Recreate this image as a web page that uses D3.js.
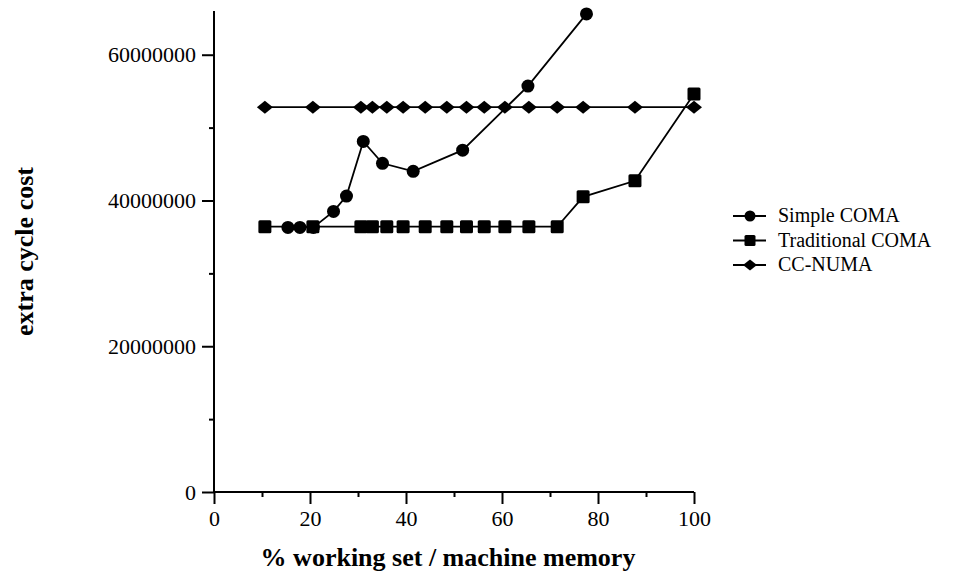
<!DOCTYPE html>
<html>
<head>
<meta charset="utf-8">
<script src="https://cdn.jsdelivr.net/npm/d3@7"></script>
<style>
  html, body { margin: 0; padding: 0; background: #fff; }
  svg { display: block; }
  text { font-family: "Liberation Serif", "Times New Roman", serif; fill: #000; }
</style>
</head>
<body>
<svg id="chart" width="964" height="572"></svg>
<script>
// ---- data ----
const seriesNames = ["Simple COMA", "Traditional COMA", "CC-NUMA"];
const simpleX = [15.4, 17.9, 20.7, 24.9, 27.6, 31.1, 35.1, 41.5, 51.8, 65.4, 77.6];
const simpleY = [36300000, 36300000, 36300000, 38500000, 40600000, 48100000, 45100000, 44000000, 46900000, 55700000, 65600000];
const tradX = [10.6, 20.6, 30.6, 33.0, 36.0, 39.4, 44.0, 48.5, 52.6, 56.3, 60.6, 65.6, 71.5, 76.9, 87.7, 100];
const tradY = [36400000, 36400000, 36400000, 36400000, 36400000, 36400000, 36400000, 36400000, 36400000, 36400000, 36400000, 36400000, 36400000, 40500000, 42700000, 54600000];
const ccX = [10.6, 20.6, 30.6, 33.0, 36.0, 39.4, 44.0, 48.5, 52.6, 56.3, 60.6, 65.6, 71.5, 76.9, 87.7, 100];
const ccY = [52800000, 52800000, 52800000, 52800000, 52800000, 52800000, 52800000, 52800000, 52800000, 52800000, 52800000, 52800000, 52800000, 52800000, 52800000, 52800000];
const xMajorTicks = [0, 20, 40, 60, 80, 100];
const xMinorTicks = [10, 30, 50, 70, 90];
const yMajorTicks = [0, 20000000, 40000000, 60000000];
const yMinorTicks = [10000000, 30000000, 50000000];
const xTitle = "% working set / machine memory";
const yTitle = "extra cycle cost";

// ---- layout ----
const svg = d3.select("#chart");
const x = d3.scaleLinear().domain([0, 100]).range([214, 694]);
const y = d3.scaleLinear().domain([0, 66000000]).range([492, 11]);

// axes
const gx = svg.append("g").attr("transform", `translate(0,${y(0)})`);
gx.call(d3.axisBottom(x).tickValues(xMajorTicks).tickSize(12).tickPadding(6).tickFormat(d3.format("d")));
const gxm = svg.append("g").attr("transform", `translate(0,${y(0)})`);
gxm.call(d3.axisBottom(x).tickValues(xMinorTicks).tickSize(5).tickFormat(""));
gxm.select(".domain").remove();

const gy = svg.append("g").attr("transform", `translate(${x(0)},0)`);
gy.call(d3.axisLeft(y).tickValues(yMajorTicks).tickSize(12).tickPadding(6).tickFormat(d3.format("d")));
const gym = svg.append("g").attr("transform", `translate(${x(0)},0)`);
gym.call(d3.axisLeft(y).tickValues(yMinorTicks).tickSize(5).tickFormat(""));
gym.select(".domain").remove();

svg.selectAll(".domain").attr("stroke", "#000").attr("stroke-width", 2);
svg.selectAll(".tick line").attr("stroke", "#000").attr("stroke-width", 2);
svg.selectAll(".tick text")
  .style("font-family", '"Liberation Serif", "Times New Roman", serif')
  .style("font-size", "22px").attr("fill", "#000");
gx.select(".domain").attr("d", `M${x(0)},0H${x(100)}`);
gy.select(".domain").attr("d", `M0,${y(0)}V${y(66000000)}`);

// titles
svg.append("text")
  .attr("x", (x(0) + x(100)) / 2 - 6)
  .attr("y", 566)
  .attr("text-anchor", "middle")
  .style("font-size", "26px").style("font-weight", "bold")
  .text(xTitle);
svg.append("text")
  .attr("transform", `translate(33,${(y(0) + y(66000000)) / 2}) rotate(-90)`)
  .attr("text-anchor", "middle")
  .style("font-size", "26px").style("font-weight", "bold")
  .text(yTitle);

// ---- series ----
const line = d3.line().x(d => x(d[0])).y(d => y(d[1]));
const series = [
  { name: seriesNames[2], xs: ccX, ys: ccY, shape: "diamond" },
  { name: seriesNames[1], xs: tradX, ys: tradY, shape: "square" },
  { name: seriesNames[0], xs: simpleX, ys: simpleY, shape: "circle" }
];
function drawMarker(g, shape, cx, cy, s) {
  if (shape === "circle") {
    g.append("circle").attr("cx", cx).attr("cy", cy).attr("r", s / 2).attr("fill", "#000");
  } else if (shape === "square") {
    g.append("rect").attr("x", cx - s / 2).attr("y", cy - s / 2).attr("width", s).attr("height", s)
      .attr("rx", 1.5).attr("fill", "#000");
  } else {
    const w = s / 2 + 1.5, h = s / 2;
    g.append("path").attr("d", `M${cx - w},${cy}L${cx},${cy - h}L${cx + w},${cy}L${cx},${cy + h}Z`).attr("fill", "#000");
  }
}
series.forEach(s => {
  const pts = s.xs.map((v, i) => [v, s.ys[i]]);
  const g = svg.append("g");
  g.append("path").datum(pts).attr("d", line).attr("fill", "none").attr("stroke", "#000").attr("stroke-width", 1.8);
  pts.forEach(p => drawMarker(g, s.shape, x(p[0]), y(p[1]), 13));
});

// ---- legend ----
const legendShapes = ["circle", "square", "diamond"];
const legend = svg.append("g");
seriesNames.forEach((n, i) => {
  const cy = 216 + i * 24.5;
  legend.append("line").attr("x1", 733).attr("x2", 766).attr("y1", cy).attr("y2", cy)
    .attr("stroke", "#000").attr("stroke-width", 2);
  drawMarker(legend, legendShapes[i], 750, cy, 11);
  legend.append("text").attr("x", 778).attr("y", cy + 6).style("font-size", "20px").text(n);
});
</script>
</body>
</html>
